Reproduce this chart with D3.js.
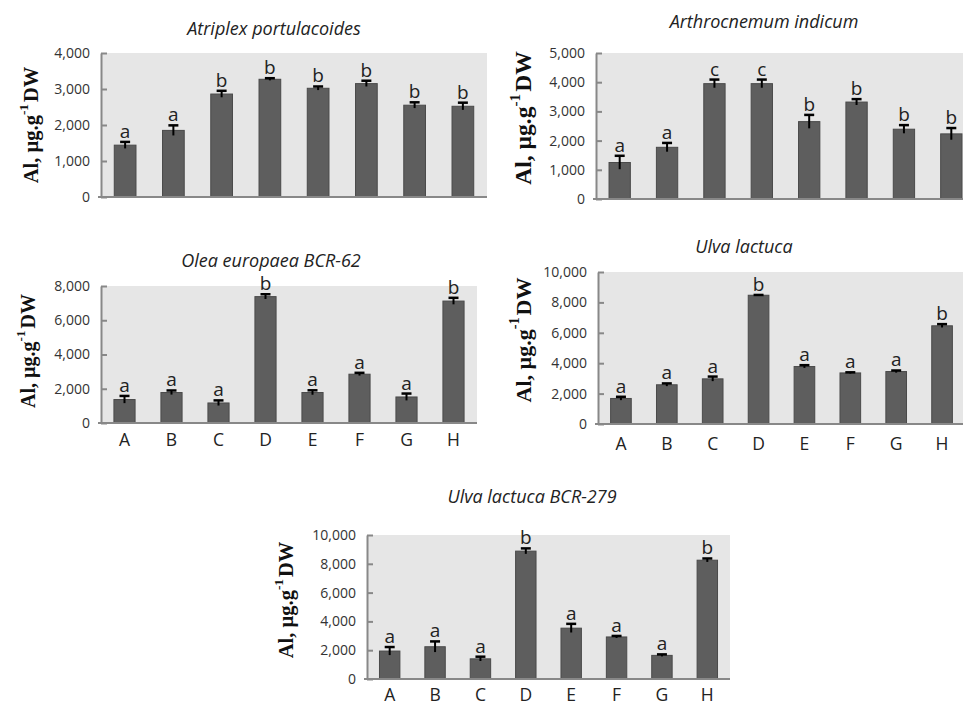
<!DOCTYPE html>
<html>
<head>
<meta charset="utf-8">
<script src="https://cdn.jsdelivr.net/npm/d3@7"></script>
<style>
  body { margin: 0; background: #fff; }
  svg { display: block; }
</style>
</head>
<body>
<div id="chart"></div>
<script>
// categories shared by all five panels
const categories = ["A", "B", "C", "D", "E", "F", "G", "H"];

// Atriplex portulacoides
const atriplexMeans = [1440, 1850, 2860, 3270, 3020, 3150, 2550, 2520];
const atriplexErrors = [90, 140, 90, 30, 50, 80, 80, 100];
const atriplexLetters = ["a", "a", "b", "b", "b", "b", "b", "b"];

// Arthrocnemum indicum
const arthroMeans = [1250, 1770, 3950, 3950, 2650, 3320, 2390, 2230];
const arthroErrors = [230, 150, 140, 140, 230, 100, 140, 200];
const arthroLetters = ["a", "a", "c", "c", "b", "b", "b", "b"];

// Olea europaea BCR-62
const oleaMeans = [1370, 1780, 1170, 7380, 1780, 2850, 1520, 7120];
const oleaErrors = [210, 120, 150, 140, 130, 80, 200, 190];
const oleaLetters = ["a", "a", "a", "b", "a", "a", "a", "b"];

// Ulva lactuca
const ulvaMeans = [1680, 2580, 2970, 8470, 3780, 3360, 3450, 6460];
const ulvaErrors = [110, 90, 150, 20, 90, 40, 70, 110];
const ulvaLetters = ["a", "a", "a", "b", "a", "a", "a", "b"];

// Ulva lactuca BCR-279
const ulva279Means = [1940, 2240, 1400, 8880, 3530, 2920, 1640, 8250];
const ulva279Errors = [280, 370, 150, 190, 300, 70, 70, 120];
const ulva279Letters = ["a", "a", "a", "b", "a", "a", "a", "b"];

const yMaxes = [4000, 5000, 8000, 10000, 10000];
const yTickSteps = [1000, 1000, 2000, 2000, 2000];

const width = 963, height = 706;
const svg = d3.select("#chart").append("svg")
  .attr("width", width)
  .attr("height", height);

const panels = [
  { title: "Atriplex portulacoides", means: atriplexMeans, errors: atriplexErrors, letters: atriplexLetters,
    box: { left: 101, right: 487, top: 53, bottom: 197 }, titleX: 274, titleY: 35,
    label: { x: 31, y: 125, size: 20.5 }, xLabels: false },
  { title: "Arthrocnemum indicum", means: arthroMeans, errors: arthroErrors, letters: arthroLetters,
    box: { left: 596, right: 975, top: 53, bottom: 199 }, titleX: 764, titleY: 28,
    label: { x: 523, y: 118, size: 23.5 }, xLabels: false },
  { title: "Olea europaea BCR-62", means: oleaMeans, errors: oleaErrors, letters: oleaLetters,
    box: { left: 101, right: 477, top: 286, bottom: 423 }, titleX: 271, titleY: 267,
    label: { x: 28, y: 351, size: 20 }, xLabels: true, xLabelY: 446 },
  { title: "Ulva lactuca", means: ulvaMeans, errors: ulvaErrors, letters: ulvaLetters,
    box: { left: 598, right: 965, top: 272, bottom: 424 }, titleX: 744, titleY: 253,
    label: { x: 523, y: 340, size: 22 }, xLabels: true, xLabelY: 450 },
  { title: "Ulva lactuca BCR-279", means: ulva279Means, errors: ulva279Errors, letters: ulva279Letters,
    box: { left: 367, right: 730, top: 535, bottom: 679 }, titleX: 532, titleY: 503,
    label: { x: 286, y: 600, size: 20.5 }, xLabels: true, xLabelY: 701 }
];

const sansFont = "'Open Sans', Lato, sans-serif";
const serifFont = "'Liberation Serif', 'DejaVu Serif', serif";

panels.forEach((p, k) => {
  const b = p.box;
  const x = d3.scaleBand()
    .domain(categories)
    .range([b.left, b.right])
    .paddingInner(0.55)
    .paddingOuter(0.275);
  const y = d3.scaleLinear()
    .domain([0, yMaxes[k]])
    .range([b.bottom, b.top]);

  const g = svg.append("g");

  // plot area background
  g.append("rect")
    .attr("x", b.left)
    .attr("y", b.top)
    .attr("width", b.right - b.left)
    .attr("height", b.bottom - b.top)
    .attr("fill", "#e6e6e6");

  // title
  g.append("text")
    .attr("x", p.titleX)
    .attr("y", p.titleY)
    .attr("text-anchor", "middle")
    .attr("font-family", sansFont)
    .attr("font-style", "italic")
    .attr("font-size", 18)
    .attr("fill", "#222")
    .text(p.title);

  // bars
  g.selectAll("rect.bar")
    .data(p.means)
    .join("rect")
    .attr("class", "bar")
    .attr("x", (d, i) => x(categories[i]))
    .attr("y", d => y(d))
    .attr("width", x.bandwidth())
    .attr("height", d => y(0) - y(d))
    .attr("fill", "#5e5e5e")
    .attr("stroke", "#4a4a4a")
    .attr("stroke-width", 1);

  // error bars
  const cx = i => x(categories[i]) + x.bandwidth() / 2;
  g.selectAll("line.stem")
    .data(p.means)
    .join("line")
    .attr("x1", (d, i) => cx(i))
    .attr("x2", (d, i) => cx(i))
    .attr("y1", (d, i) => y(d - p.errors[i]))
    .attr("y2", (d, i) => y(d + p.errors[i]))
    .attr("stroke", "#000")
    .attr("stroke-width", 2);
  g.selectAll("line.cap")
    .data(p.means)
    .join("line")
    .attr("x1", (d, i) => cx(i) - 5)
    .attr("x2", (d, i) => cx(i) + 5)
    .attr("y1", (d, i) => y(d + p.errors[i]))
    .attr("y2", (d, i) => y(d + p.errors[i]))
    .attr("stroke", "#000")
    .attr("stroke-width", 2.5);

  // significance letters
  g.selectAll("text.letter")
    .data(p.letters)
    .join("text")
    .attr("x", (d, i) => cx(i))
    .attr("y", (d, i) => y(p.means[i] + p.errors[i]) - 4)
    .attr("text-anchor", "middle")
    .attr("font-family", sansFont)
    .attr("font-size", 19)
    .attr("fill", "#222")
    .text(d => d);

  // y axis
  const yAxis = d3.axisLeft(y)
    .tickValues(d3.range(0, yMaxes[k] + 1, yTickSteps[k]))
    .tickFormat(d3.format(","))
    .tickSizeInner(-6)
    .tickSizeOuter(0)
    .tickPadding(11);
  const ya = g.append("g")
    .attr("transform", `translate(${b.left},0)`)
    .call(yAxis);
  ya.select(".domain").attr("stroke", "#888").attr("stroke-width", 2);
  ya.selectAll(".tick line").attr("stroke", "#888").attr("stroke-width", 2);
  ya.selectAll(".tick text")
    .attr("font-family", sansFont)
    .attr("font-size", 14)
    .attr("fill", "#333");

  // baseline
  g.append("line")
    .attr("x1", b.left - 3)
    .attr("x2", b.right)
    .attr("y1", y(0))
    .attr("y2", y(0))
    .attr("stroke", "#888")
    .attr("stroke-width", 2);

  // category labels
  if (p.xLabels) {
    g.selectAll("text.cat")
      .data(categories)
      .join("text")
      .attr("x", d => x(d) + x.bandwidth() / 2)
      .attr("y", p.xLabelY)
      .attr("text-anchor", "middle")
      .attr("font-family", sansFont)
      .attr("font-size", 17.5)
      .attr("fill", "#222")
      .text(d => d);
  }

  // y label
  const lab = g.append("text")
    .attr("transform", `translate(${p.label.x},${p.label.y}) rotate(-90)`)
    .attr("text-anchor", "middle")
    .attr("dominant-baseline", "central")
    .attr("font-family", serifFont)
    .attr("font-weight", "bold")
    .attr("font-size", p.label.size)
    .attr("fill", "#111");
  lab.append("tspan").text("Al, µg.g");
  lab.append("tspan").attr("dy", -p.label.size * 0.4).attr("font-size", p.label.size * 0.65).text("-1");
  lab.append("tspan").attr("dy", p.label.size * 0.4).attr("dx", 2).text("DW");
});
</script>
</body>
</html>
